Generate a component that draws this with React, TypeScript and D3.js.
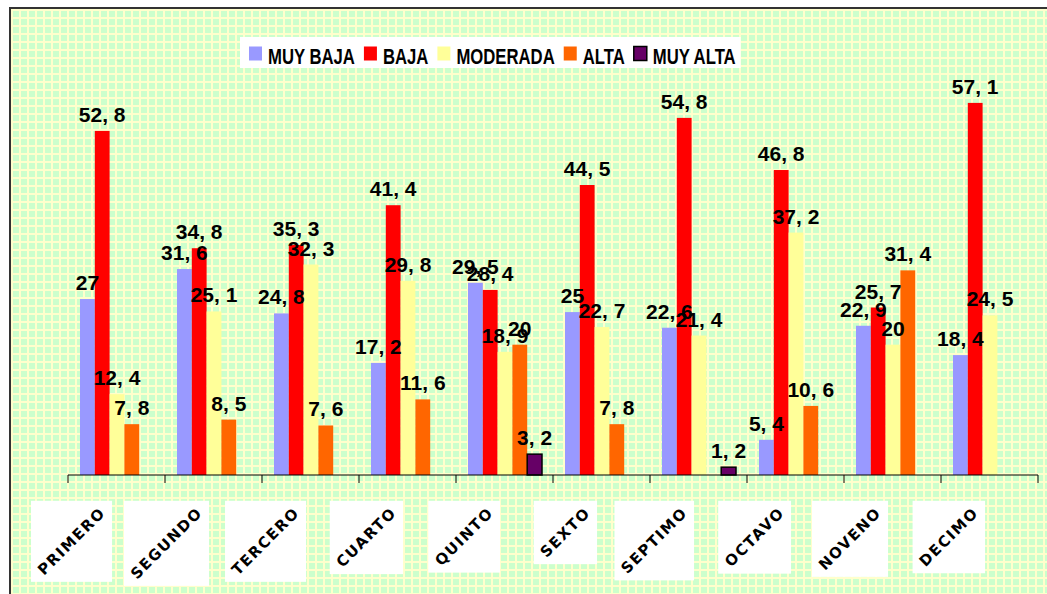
import React, { useEffect, useRef } from 'react';
import * as d3 from 'd3';

// chart data
const categories = ['PRIMERO', 'SEGUNDO', 'TERCERO', 'CUARTO', 'QUINTO', 'SEXTO', 'SEPTIMO', 'OCTAVO', 'NOVENO', 'DECIMO'];
const seriesNames = ['MUY BAJA', 'BAJA', 'MODERADA', 'ALTA', 'MUY ALTA'];
const muyBaja = [27, 31.6, 24.8, 17.2, 29.5, 25, 22.6, 5.4, 22.9, 18.4];
const baja = [52.8, 34.8, 35.3, 41.4, 28.4, 44.5, 54.8, 46.8, 25.7, 57.1];
const moderada = [12.4, 25.1, 32.3, 29.8, 18.9, 22.7, 21.4, 37.2, 20, 24.5];
const alta = [7.8, 8.5, 7.6, 11.6, 20, 7.8, 0, 10.6, 31.4, 0];
const muyAlta = [0, 0, 0, 0, 3.2, 0, 1.2, 0, 0, 0];

const seriesValues = [muyBaja, baja, moderada, alta, muyAlta];
const colors = ['#9999ff', '#ff0000', '#ffff99', '#ff6600', '#660066'];

export default function App() {
  const svgRef = useRef<SVGSVGElement>(null);

  useEffect(() => {
    const svg = d3.select(svgRef.current);
    svg.selectAll('*').remove();

    const W = 1047;
    const H = 594;
    const font = "'Liberation Sans', Arial, sans-serif";

    // grid background pattern
    const defs = svg.append('defs');
    const pat = defs.append('pattern')
      .attr('id', 'grid')
      .attr('width', 8).attr('height', 8)
      .attr('patternUnits', 'userSpaceOnUse')
      .attr('x', 11).attr('y', 9);
    pat.append('rect').attr('width', 8).attr('height', 8).attr('fill', '#ffffcc');
    pat.append('rect').attr('x', 2).attr('y', 2).attr('width', 6).attr('height', 6).attr('fill', '#ccffcc');

    svg.append('rect').attr('width', W).attr('height', H).attr('fill', '#fff');
    svg.append('rect').attr('x', 11).attr('y', 9).attr('width', W - 11).attr('height', H - 9).attr('fill', 'url(#grid)');
    svg.append('line').attr('x1', 10).attr('x2', 10).attr('y1', 7).attr('y2', H).attr('stroke', '#333').attr('stroke-width', 2);
    svg.append('line').attr('x1', 9).attr('x2', W).attr('y1', 8).attr('y2', 8).attr('stroke', '#333').attr('stroke-width', 2);

    // scales
    const x = d3.scaleBand<string>().domain(categories).range([68, 1038]).padding(0);
    const xs = d3.scaleBand<string>().domain(seriesNames).range([12, 86]).padding(0);
    const y = d3.scaleLinear().domain([0, 60]).range([475, 84]);

    // bars
    seriesValues.forEach((vals, si) => {
      svg.append('g')
        .selectAll('rect')
        .data(vals.map((v, i) => ({ v, c: categories[i] })).filter(d => d.v > 0))
        .join('rect')
        .attr('x', d => x(d.c)! + xs(seriesNames[si])!)
        .attr('y', d => y(d.v))
        .attr('width', xs.bandwidth())
        .attr('height', d => y(0) - y(d.v))
        .attr('fill', colors[si])
        .attr('stroke', si === 4 ? '#000' : 'none')
        .attr('stroke-width', si === 4 ? 1.5 : 0);
    });

    // value labels on top
    seriesValues.forEach((vals, si) => {
      svg.append('g')
        .selectAll('text')
        .data(vals.map((v, i) => ({ v, c: categories[i] })).filter(d => d.v > 0))
        .join('text')
        .attr('x', d => x(d.c)! + xs(seriesNames[si])! + xs.bandwidth() / 2)
        .attr('y', d => y(d.v) - 9)
        .attr('text-anchor', 'middle')
        .attr('font-family', font)
        .attr('font-weight', 'bold')
        .attr('font-size', 21)
        .attr('fill', '#000')
        .text(d => String(d.v).replace('.', ', '));
    });

    // x axis
    const axis = svg.append('g');
    axis.append('line').attr('x1', 68).attr('x2', 1038).attr('y1', 475).attr('y2', 475).attr('stroke', '#000');
    const ticks = categories.map(c => x(c)!).concat([x.range()[1]]);
    axis.selectAll('.tick')
      .data(ticks)
      .join('line')
      .attr('x1', d => d).attr('x2', d => d)
      .attr('y1', 475).attr('y2', 483)
      .attr('stroke', '#000');

    // category labels, rotated, on white boxes
    const angle = -45;
    const rad = angle * Math.PI / 180;
    categories.forEach(c => {
      const g = svg.append('g');
      const ax = x(c)! + x.bandwidth() / 2 - 14;
      const ay = 510;
      const t = g.append('text')
        .attr('transform', `translate(${ax},${ay}) rotate(${angle})`)
        .attr('text-anchor', 'end')
        .attr('dy', '0.35em')
        .attr('font-family', "'DejaVu Sans', sans-serif")
        .attr('font-weight', 'bold')
        .attr('font-size', 15)
        .attr('letter-spacing', 1.5)
        .attr('fill', '#000')
        .text(c);
      const b = (t.node() as SVGTextElement).getBBox();
      const corners = [[b.x, b.y], [b.x + b.width, b.y], [b.x, b.y + b.height], [b.x + b.width, b.y + b.height]]
        .map(([px, py]) => [ax + px * Math.cos(rad) - py * Math.sin(rad), ay + px * Math.sin(rad) + py * Math.cos(rad)]);
      const x0 = d3.min(corners, p => p[0])! - 3;
      const x1 = d3.max(corners, p => p[0])! + 3;
      const y0 = d3.min(corners, p => p[1])! - 3;
      const y1 = d3.max(corners, p => p[1])! + 3;
      g.insert('rect', 'text')
        .attr('x', x0).attr('y', y0)
        .attr('width', x1 - x0).attr('height', y1 - y0)
        .attr('fill', '#fff');
    });

    // legend
    const lg = svg.append('g');
    const box = lg.append('rect').attr('x', 240).attr('y', 37).attr('height', 31).attr('fill', '#fff');
    let cx = 249;
    seriesNames.forEach((name, i) => {
      lg.append('rect')
        .attr('x', cx).attr('y', 46.5)
        .attr('width', 13).attr('height', 14)
        .attr('fill', colors[i])
        .attr('stroke', i === 4 ? '#000' : 'none')
        .attr('stroke-width', i === 4 ? 1.5 : 0);
      cx += 19;
      const t = lg.append('text')
        .attr('transform', `translate(${cx},64) scale(0.76,1)`)
        .attr('font-family', font)
        .attr('font-weight', 'bold')
        .attr('font-size', 22)
        .attr('fill', '#000')
        .text(name);
      const w = (t.node() as SVGTextElement).getComputedTextLength() * 0.76;
      cx += w + 9;
    });
    box.attr('width', cx - 240 - 4);
  }, []);

  return (
    <svg ref={svgRef} width={1047} height={594} style={{ position: 'absolute', left: 0, top: 0, display: 'block' }} />
  );
}
